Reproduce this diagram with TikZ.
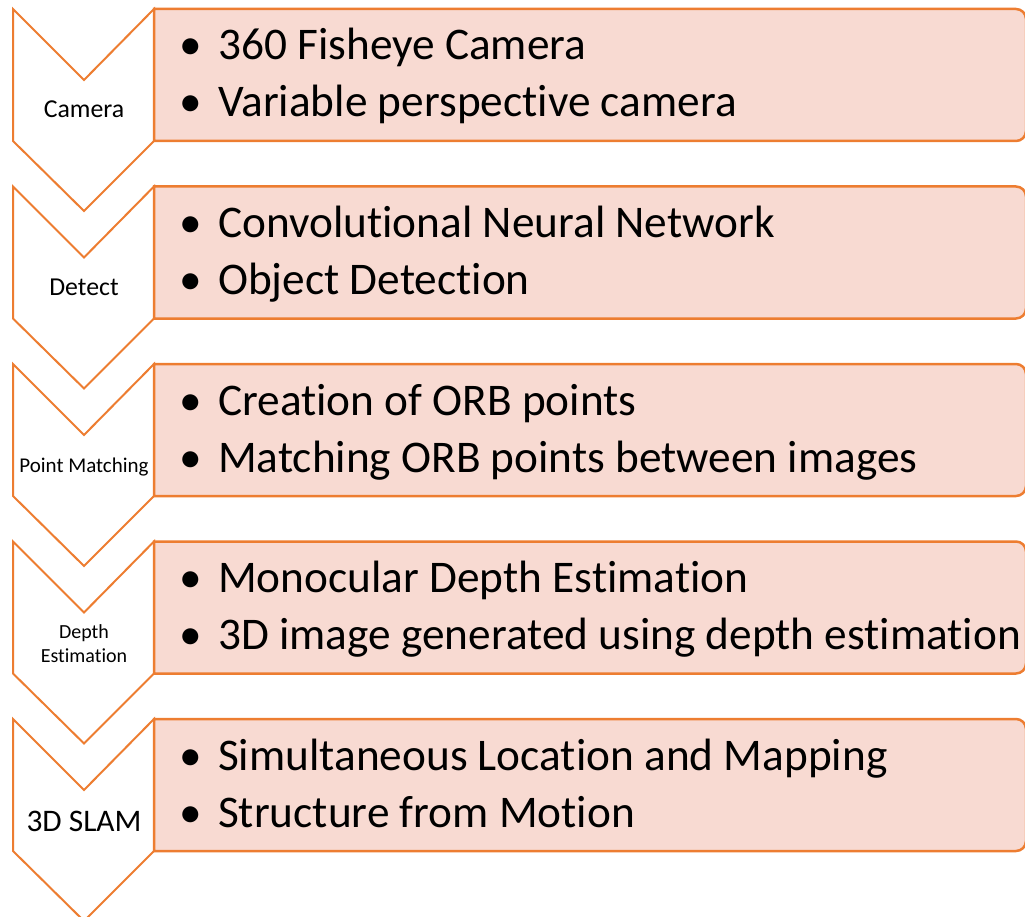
\documentclass[tikz,border=0pt]{standalone}
\usepackage{fontspec}
\setmainfont[Ligatures=NoCommon, RawFeature={-liga;-clig}]{Carlito}
\definecolor{borange}{HTML}{ED7D31}
\definecolor{bfill}{HTML}{F8DAD2}
\tikzset{
  chev/.style={draw=borange, line width=2pt, fill=white, line join=miter},
  boxr/.style={draw=borange, line width=2.5pt, fill=bfill},
  btext/.style={inner sep=0pt, anchor=base west, font=\fontsize{45.3}{57}\selectfont},
  bul/.style={inner sep=0pt, anchor=base, font=\fontsize{45.3}{57}\selectfont},
  lbl/.style={inner sep=0pt, anchor=base, align=center},
}
\begin{document}
\begin{tikzpicture}[x=1pt,y=-1pt]
\useasboundingbox (0,0) rectangle (1025,917);
\foreach \i/\la/\lb in {
  0/{360 Fisheye Camera}/{Variable perspective camera},
  1/{Convolutional Neural Network}/{Object Detection},
  2/{Creation of ORB points}/{Matching ORB points between images},
  3/{Monocular Depth Estimation}/{3D image generated using depth estimation},
  4/{Simultaneous Location and Mapping}/{Structure from Motion}} {
  \pgfmathsetmacro{\yo}{9+177.5*\i}
  \draw[chev] (13,\yo) -- (84,\yo+71) -- (154,\yo) -- (154,\yo+132) -- (84,\yo+202) -- (13,\yo+132) -- cycle;
  \draw[boxr] (154,\yo) -- (1016,\yo) arc[start angle=-90, end angle=0, radius=10] -- (1026,\yo+122) arc[start angle=0, end angle=90, radius=10] -- (154,\yo+132) -- cycle;
  \node[bul] (ba\i) at (191,\yo+51) {•};
  \node[btext] (ta\i) at (218,\yo+51) {\la};
  \node[bul] (bb\i) at (191,\yo+108) {•};
  \node[btext] (tb\i) at (218,\yo+108) {\lb};
}
\node[lbl, font=\fontsize{25.8}{30}\selectfont] (l0) at (84,118) {Camera};
\node[lbl, font=\fontsize{25.8}{30}\selectfont] (l1) at (84,295.5) {Detect};
\node[lbl, font=\fontsize{21}{24}\selectfont] (l2) at (84,472.5) {Point Matching};
\node[lbl, font=\fontsize{20}{24}\selectfont] (l3a) at (84,638) {Depth};
\node[lbl, font=\fontsize{20}{24}\selectfont] (l3b) at (84,662) {Estimation};
\node[lbl, font=\fontsize{31.4}{36}\selectfont] (l4) at (84,831) {3D SLAM};
\end{tikzpicture}
\end{document}
